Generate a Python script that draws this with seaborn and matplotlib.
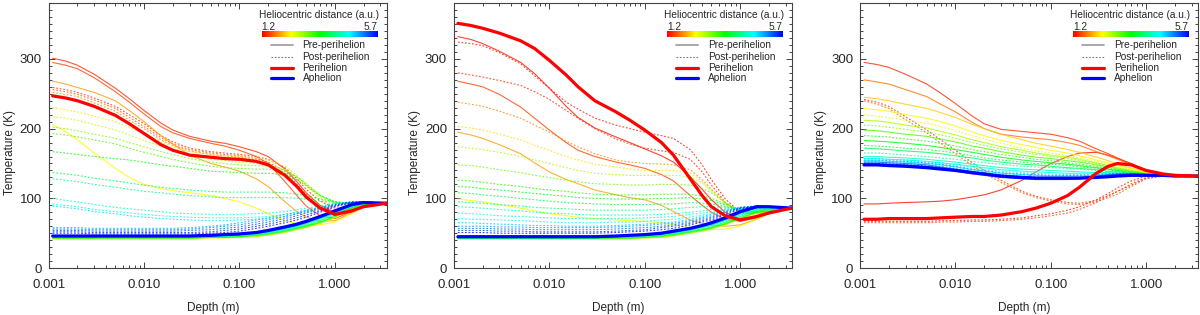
import numpy as np
import pandas as pd
import seaborn as sns
import matplotlib.pyplot as plt
from matplotlib.colors import LinearSegmentedColormap, Normalize
from matplotlib.lines import Line2D
from matplotlib.ticker import MultipleLocator, LogLocator, NullFormatter

# depth grid (m) shared by every profile
depth = [0.0011, 0.0015, 0.002, 0.003, 0.005, 0.007, 0.01, 0.015, 0.02, 0.03, 0.05, 0.07,
         0.1, 0.15, 0.2, 0.3, 0.4, 0.5, 0.7, 1.0, 1.5, 2.0, 3.5]

# ---------------- panel 1 ----------------
p1_r = [1.4, 1.5, 1.9, 2.3,
        1.4, 1.6, 1.8, 2.2, 2.6, 2.9, 3.1, 3.4, 3.8, 4.0, 4.3, 4.5, 4.7, 4.9, 5.1, 5.3, 5.5, 5.6,
        2.5, 3.0, 3.4, 3.8, 4.2, 4.6, 5.0, 5.4]
p1_phase = ['pre'] * 4 + ['post'] * 18 + ['pre'] * 8
p1_T = [
    [301, 297, 291, 278, 258, 243, 226, 208, 198, 189, 182, 179, 174, 167, 160, 142, 124, 108, 90, 80, 85, 90, 93],
    [295, 291, 286, 273, 253, 238, 221, 203, 194, 186, 179, 175, 169, 160, 150, 124, 104, 89, 75, 71, 81, 89, 93],
    [268, 264, 259, 252, 240, 226, 210, 190, 178, 162, 150, 145, 139, 128, 117, 95, 81, 73, 67, 68, 79, 88, 93],
    [206, 196, 184, 165, 143, 130, 120, 114, 111, 108, 104, 100, 95, 86, 78, 68, 64, 62, 62, 66, 78, 87, 93],
    [259, 256, 252, 244, 232, 220, 207, 190, 181, 172, 167, 165, 163, 160, 156, 144, 128, 113, 96, 86, 87, 91, 93],
    [256, 253, 249, 241, 229, 216, 203, 187, 178, 170, 165, 163, 161, 157, 152, 139, 121, 106, 90, 83, 86, 91, 93],
    [252, 249, 246, 237, 225, 212, 200, 184, 176, 168, 163, 161, 159, 155, 150, 136, 117, 101, 86, 81, 85, 90, 93],
    [230, 227, 224, 218, 210, 202, 193, 181, 174, 167, 163, 161, 160, 158, 155, 146, 133, 120, 99, 87, 87, 91, 93],
    [217, 215, 212, 206, 198, 191, 183, 175, 170, 162, 156, 154, 152, 150, 148, 141, 130, 118, 102, 93, 92, 93, 93],
    [202, 200, 197, 192, 186, 180, 174, 167, 163, 157, 152, 150, 148, 147, 146, 141, 131, 120, 104, 94, 92, 93, 93],
    [193, 191, 188, 184, 178, 172, 166, 160, 156, 151, 146, 144, 143, 142, 142, 139, 131, 121, 105, 95, 92, 93, 93],
    [167, 165, 163, 160, 157, 155, 152, 148, 146, 143, 139, 138, 137, 136, 136, 134, 127, 118, 104, 95, 92, 93, 93],
    [137, 135, 133, 129, 125, 122, 119, 116, 114, 112, 110, 109, 109, 109, 109, 108, 106, 104, 99, 95, 93, 93, 93],
    [128, 126, 124, 120, 116, 113, 110, 108, 106, 104, 102, 101, 101, 101, 101, 101, 100, 99, 96, 94, 93, 93, 93],
    [100, 97, 95, 91, 87, 85, 83, 81, 79, 78, 77, 77, 77, 78, 79, 81, 84, 86, 89, 93, 94, 94, 93],
    [92, 90, 88, 84, 81, 79, 77, 75, 74, 73, 72, 72, 72, 73, 74, 77, 80, 83, 87, 92, 94, 94, 93],
    [89, 87, 85, 81, 78, 75, 73, 71, 70, 69, 68, 68, 69, 70, 71, 74, 78, 81, 86, 91, 94, 94, 93],
    [58, 58, 58, 57, 57, 57, 57, 57, 57, 58, 60, 62, 65, 69, 72, 77, 80, 83, 87, 92, 95, 95, 93],
    [56, 56, 56, 55, 55, 55, 55, 55, 55, 56, 58, 60, 62, 66, 69, 74, 78, 81, 86, 91, 95, 95, 93],
    [54, 54, 54, 53, 53, 53, 53, 53, 53, 54, 55, 57, 59, 63, 66, 71, 75, 79, 84, 90, 95, 95, 93],
    [52, 52, 52, 51, 51, 51, 51, 51, 51, 51, 52, 54, 56, 60, 63, 68, 72, 76, 82, 89, 94, 95, 93],
    [50, 50, 50, 49, 49, 49, 49, 49, 49, 49, 50, 51, 53, 57, 60, 65, 69, 73, 80, 88, 94, 95, 93],
    [42, 42, 42, 42, 42, 42, 42, 42, 42, 42, 43, 43, 44, 45, 47, 51, 55, 58, 64, 72, 84, 90, 93],
    [43, 43, 43, 43, 43, 43, 43, 43, 43, 43, 44, 44, 45, 46, 48, 52, 56, 59, 65, 73, 85, 90, 93],
    [43, 43, 43, 43, 43, 43, 43, 43, 43, 43, 44, 44, 45, 47, 49, 53, 57, 60, 66, 74, 86, 91, 93],
    [44, 44, 44, 44, 44, 44, 44, 44, 44, 44, 45, 45, 46, 48, 50, 54, 58, 61, 68, 76, 87, 92, 93],
    [44, 44, 44, 44, 44, 44, 44, 44, 44, 44, 45, 46, 47, 49, 51, 55, 59, 63, 70, 78, 88, 93, 93],
    [45, 45, 45, 45, 45, 45, 45, 45, 45, 45, 46, 46, 47, 50, 52, 56, 60, 64, 71, 79, 89, 93, 93],
    [45, 45, 45, 45, 45, 45, 45, 45, 45, 45, 46, 47, 48, 50, 52, 57, 61, 65, 72, 80, 90, 94, 93],
    [46, 46, 46, 46, 46, 46, 46, 46, 46, 46, 47, 47, 48, 51, 53, 58, 62, 66, 73, 81, 90, 94, 93],
]
p1_peri = [247, 244, 240, 232, 219, 207, 193, 177, 169, 162, 159, 157, 156, 153, 148, 133, 117, 102, 86, 77, 82, 88, 93]
p1_aph = [46, 46, 46, 46, 46, 46, 46, 46, 46, 46, 47, 48, 49, 51, 54, 59, 63, 67, 74, 82, 91, 94, 93]

# ---------------- panel 2 ----------------
p2_r = [1.3, 1.5, 1.9, 2.4,
        1.3, 1.4, 1.8, 2.2, 2.7, 3.0, 3.3, 3.5, 3.7, 4.0, 4.2, 4.4, 4.6, 4.8, 5.0, 5.2, 5.4, 5.6,
        2.6, 3.1, 3.5, 3.9, 4.3, 4.7, 5.1, 5.5]
p2_phase = ['pre'] * 4 + ['post'] * 18 + ['pre'] * 8
p2_T = [
    [332, 328, 322, 311, 295, 279, 258, 232, 216, 201, 188, 180, 171, 161, 152, 131, 113, 98, 80, 70, 74, 79, 86],
    [268, 264, 260, 249, 231, 215, 198, 180, 169, 160, 152, 148, 143, 134, 125, 104, 90, 80, 70, 67, 72, 79, 86],
    [195, 191, 186, 177, 164, 151, 138, 127, 121, 112, 105, 101, 98, 90, 81, 69, 64, 62, 60, 62, 70, 78, 86],
    [99, 97, 95, 91, 86, 82, 78, 75, 73, 71, 69, 68, 67, 65, 62, 58, 56, 55, 56, 60, 70, 78, 86],
    [324, 322, 319, 309, 293, 276, 258, 238, 228, 215, 205, 200, 195, 190, 186, 170, 148, 127, 99, 80, 78, 81, 86],
    [280, 277, 274, 269, 262, 253, 242, 226, 215, 200, 185, 178, 172, 168, 166, 156, 138, 119, 94, 79, 78, 81, 86],
    [238, 235, 232, 225, 215, 205, 195, 182, 174, 164, 155, 152, 150, 149, 148, 141, 127, 113, 93, 80, 78, 81, 86],
    [203, 201, 198, 192, 184, 176, 169, 160, 155, 149, 145, 142, 140, 140, 140, 137, 124, 111, 92, 80, 78, 81, 86],
    [174, 172, 170, 166, 160, 155, 150, 144, 140, 136, 134, 133, 133, 133, 133, 131, 122, 112, 94, 81, 78, 81, 86],
    [148, 147, 145, 141, 137, 133, 130, 126, 124, 121, 120, 119, 119, 120, 120, 119, 114, 108, 94, 82, 79, 81, 86],
    [126, 125, 123, 120, 117, 114, 112, 110, 108, 106, 105, 105, 105, 106, 106, 106, 103, 100, 92, 83, 80, 82, 86],
    [117, 116, 114, 112, 109, 107, 105, 103, 101, 100, 99, 99, 99, 100, 100, 101, 99, 97, 90, 83, 80, 82, 86],
    [108, 107, 105, 103, 100, 98, 96, 94, 93, 92, 91, 91, 91, 92, 92, 94, 93, 92, 88, 84, 81, 82, 86],
    [95, 94, 93, 91, 89, 87, 86, 85, 84, 83, 83, 83, 83, 84, 85, 87, 88, 88, 87, 85, 83, 84, 86],
    [88, 87, 86, 84, 82, 80, 79, 78, 77, 76, 76, 76, 76, 77, 78, 80, 82, 84, 85, 85, 84, 84, 86],
    [79, 78, 77, 75, 74, 73, 72, 71, 71, 71, 71, 71, 72, 73, 74, 77, 79, 81, 84, 86, 85, 85, 86],
    [71, 70, 70, 69, 68, 67, 66, 65, 65, 65, 66, 66, 67, 69, 70, 73, 76, 79, 83, 86, 86, 86, 86],
    [65, 65, 64, 63, 62, 61, 61, 60, 60, 60, 61, 62, 63, 65, 66, 70, 74, 77, 82, 87, 88, 87, 86],
    [60, 60, 60, 59, 59, 58, 58, 58, 58, 58, 59, 60, 61, 63, 64, 68, 72, 75, 81, 87, 89, 88, 86],
    [57, 57, 57, 56, 56, 55, 55, 55, 55, 55, 56, 57, 58, 60, 62, 66, 70, 73, 80, 87, 89, 88, 86],
    [54, 54, 54, 53, 53, 52, 52, 52, 52, 52, 53, 54, 55, 58, 60, 64, 68, 71, 78, 86, 89, 88, 86],
    [51, 51, 51, 50, 50, 50, 50, 50, 50, 50, 51, 52, 53, 55, 57, 62, 66, 69, 76, 85, 89, 88, 86],
    [42, 42, 42, 42, 42, 42, 42, 42, 42, 42, 42, 42, 43, 44, 46, 50, 53, 56, 62, 70, 79, 84, 86],
    [42, 42, 42, 42, 42, 42, 42, 42, 42, 42, 43, 43, 44, 45, 47, 51, 54, 57, 63, 71, 80, 84, 86],
    [43, 43, 43, 43, 43, 43, 43, 43, 43, 43, 43, 43, 44, 46, 48, 52, 55, 58, 64, 72, 81, 85, 86],
    [43, 43, 43, 43, 43, 43, 43, 43, 43, 43, 44, 44, 45, 47, 49, 53, 56, 59, 66, 74, 83, 86, 86],
    [44, 44, 44, 44, 44, 44, 44, 44, 44, 44, 44, 45, 46, 48, 50, 54, 58, 61, 68, 76, 84, 87, 86],
    [44, 44, 44, 44, 44, 44, 44, 44, 44, 44, 45, 46, 47, 49, 51, 55, 59, 62, 69, 78, 86, 88, 86],
    [45, 45, 45, 45, 45, 45, 45, 45, 45, 45, 45, 46, 47, 49, 51, 56, 60, 63, 70, 79, 87, 88, 86],
    [45, 45, 45, 45, 45, 45, 45, 45, 45, 45, 46, 47, 48, 50, 52, 57, 61, 64, 71, 80, 87, 88, 86],
]
p2_peri = [351, 348, 344, 337, 326, 315, 298, 277, 260, 240, 224, 212, 198, 180, 162, 128, 104, 88, 75, 69, 74, 79, 86]
p2_aph = [45, 45, 45, 45, 45, 45, 45, 45, 45, 45, 46, 47, 48, 50, 53, 57, 61, 65, 72, 81, 88, 88, 86]

# ---------------- panel 3 ----------------
p3_r = [1.3, 1.4, 1.7, 2.1, 2.3, 2.7, 3.1, 3.5, 3.9, 4.3, 4.5, 4.7, 5.1, 5.2, 5.5,
        1.3, 1.5, 1.4, 1.6, 2.5, 2.9, 3.3, 3.7, 4.1, 4.5, 4.9, 5.0, 5.3, 5.5]
p3_phase = ['pre'] * 15 + ['post'] * 14
p3_T = [
    [92, 92, 93, 94, 95, 96, 98, 102, 105, 112, 126, 138, 150, 160, 165, 166, 162, 157, 150, 140, 135, 133, 132],
    [295, 292, 288, 278, 264, 251, 236, 218, 207, 199, 196, 194, 192, 187, 182, 171, 164, 158, 149, 140, 135, 133, 132],
    [270, 267, 264, 256, 246, 235, 224, 209, 200, 192, 188, 186, 184, 180, 176, 167, 161, 156, 148, 139, 135, 133, 132],
    [245, 243, 240, 235, 229, 223, 216, 206, 200, 192, 184, 179, 175, 170, 166, 159, 154, 149, 143, 138, 134, 133, 132],
    [229, 227, 225, 220, 215, 210, 204, 195, 190, 183, 177, 173, 169, 165, 161, 155, 151, 147, 142, 137, 134, 133, 132],
    [212, 211, 209, 205, 201, 196, 191, 184, 180, 174, 169, 165, 162, 159, 156, 151, 147, 144, 140, 136, 134, 133, 132],
    [198, 197, 195, 192, 189, 185, 181, 175, 172, 167, 162, 159, 157, 154, 152, 148, 145, 142, 139, 135, 133, 133, 132],
    [183, 182, 181, 179, 176, 173, 170, 166, 163, 159, 155, 153, 151, 149, 147, 144, 142, 140, 137, 135, 133, 133, 132],
    [172, 171, 170, 168, 166, 164, 161, 158, 155, 152, 149, 148, 146, 144, 143, 141, 139, 138, 136, 134, 133, 133, 132],
    [160, 160, 159, 158, 156, 154, 152, 149, 147, 144, 142, 141, 140, 139, 138, 137, 137, 136, 135, 134, 133, 132, 132],
    [157, 157, 156, 155, 153, 151, 149, 146, 144, 141, 139, 138, 137, 136, 136, 136, 136, 136, 135, 134, 133, 132, 132],
    [154, 154, 153, 152, 150, 148, 145, 141, 139, 136, 134, 133, 132, 132, 132, 133, 134, 135, 135, 134, 133, 132, 132],
    [150, 150, 149, 148, 146, 144, 141, 137, 135, 132, 130, 129, 129, 129, 129, 131, 133, 134, 135, 134, 133, 132, 132],
    [152, 152, 151, 150, 148, 145, 142, 138, 136, 133, 131, 130, 130, 130, 130, 132, 134, 135, 135, 134, 133, 132, 132],
    [148, 148, 147, 146, 144, 142, 139, 135, 133, 130, 128, 127, 127, 127, 128, 130, 132, 133, 134, 134, 133, 132, 132],
    [67, 67, 67, 67, 67, 68, 68, 69, 69, 70, 72, 75, 78, 83, 88, 98, 107, 115, 125, 132, 133, 132, 132],
    [65, 65, 65, 65, 65, 66, 66, 67, 67, 68, 70, 72, 75, 79, 84, 94, 103, 110, 121, 130, 133, 132, 132],
    [242, 238, 232, 217, 198, 184, 169, 151, 140, 126, 110, 103, 98, 94, 93, 97, 104, 110, 119, 129, 132, 132, 132],
    [240, 235, 229, 213, 194, 179, 164, 147, 136, 123, 108, 101, 96, 92, 91, 95, 101, 106, 117, 128, 132, 132, 132],
    [220, 218, 216, 212, 208, 203, 197, 190, 185, 179, 172, 168, 165, 161, 158, 153, 149, 145, 141, 136, 134, 133, 132],
    [205, 204, 202, 199, 195, 191, 186, 180, 176, 171, 166, 163, 160, 157, 154, 150, 146, 143, 139, 136, 133, 133, 132],
    [190, 189, 188, 185, 182, 179, 175, 170, 167, 163, 159, 156, 154, 151, 149, 146, 143, 141, 138, 135, 133, 133, 132],
    [176, 175, 174, 172, 170, 168, 165, 161, 158, 155, 152, 150, 149, 147, 145, 143, 141, 139, 136, 134, 133, 133, 132],
    [165, 165, 164, 162, 160, 158, 156, 153, 151, 149, 146, 145, 144, 143, 142, 140, 138, 137, 135, 134, 133, 133, 132],
    [157, 157, 156, 155, 153, 151, 148, 145, 142, 139, 137, 136, 135, 134, 134, 134, 135, 135, 135, 134, 133, 132, 132],
    [152, 152, 151, 150, 148, 146, 143, 139, 137, 134, 132, 131, 130, 130, 130, 132, 133, 134, 135, 134, 133, 132, 132],
    [155, 155, 154, 153, 151, 149, 146, 142, 140, 137, 135, 134, 133, 133, 133, 134, 135, 136, 136, 134, 133, 132, 132],
    [149, 149, 148, 147, 145, 143, 140, 136, 134, 131, 129, 128, 128, 128, 128, 130, 132, 133, 134, 134, 133, 132, 132],
    [150, 150, 149, 148, 146, 144, 141, 137, 135, 132, 130, 129, 129, 129, 129, 131, 133, 134, 135, 134, 133, 132, 132],
]
p3_peri = [70, 70, 71, 71, 71, 72, 73, 74, 74, 76, 81, 86, 93, 104, 116, 136, 146, 150, 148, 140, 135, 133, 132]
p3_aph = [148, 148, 147, 146, 144, 142, 140, 137, 135, 132, 130, 129, 129, 129, 129, 130, 131, 132, 133, 133, 133, 132, 132]

sns.set_style('ticks')
plt.rcParams['font.family'] = ['Liberation Sans', 'DejaVu Sans']

cmap = LinearSegmentedColormap.from_list(
    'helio', ['#ff0000', '#ffff00', '#00ff00', '#00ffff', '#0000ff'])
norm = Normalize(1.2, 5.7)

fig = plt.figure(figsize=(12, 3.15), dpi=100)
lefts = [0.0406, 0.3783, 0.7167]
axes = [fig.add_axes([l, 0.149, 0.2817, 0.841]) for l in lefts]

panels = [(p1_r, p1_phase, p1_T, p1_peri, p1_aph),
          (p2_r, p2_phase, p2_T, p2_peri, p2_aph),
          (p3_r, p3_phase, p3_T, p3_peri, p3_aph)]

for ax, (r, phase, temps, peri, aph) in zip(axes, panels):
    rows = []
    for i, (ri, ph, tt) in enumerate(zip(r, phase, temps)):
        for d, t in zip(depth, tt):
            rows.append({'curve': i, 'r': ri, 'phase': ph, 'depth': d, 'T': t})
    df = pd.DataFrame(rows)

    sns.lineplot(data=df, x='depth', y='T', hue='r', hue_norm=norm, palette=cmap,
                 style='phase', dashes={'pre': '', 'post': (1.6, 1.6)},
                 units='curve', estimator=None, sort=False, lw=0.8, alpha=0.8,
                 legend=False, ax=ax)
    sns.lineplot(x=depth, y=aph, color='#0000ff', lw=2.3, sort=False, ax=ax)
    sns.lineplot(x=depth, y=peri, color='#ff0000', lw=2.3, sort=False, ax=ax)

    ax.set_xscale('log')
    ax.set_xlim(0.001, 3.5)
    ax.set_ylim(0, 380)
    ax.set_xticks([0.001, 0.01, 0.1, 1.0])
    ax.set_xticklabels(['0.001', '0.010', '0.100', '1.000'])
    ax.xaxis.set_minor_locator(LogLocator(base=10, subs=range(2, 10)))
    ax.xaxis.set_minor_formatter(NullFormatter())
    ax.set_yticks([0, 100, 200, 300])
    ax.yaxis.set_minor_locator(MultipleLocator(10))
    ax.tick_params(which='both', direction='in', top=True, right=True,
                   color='#444444', width=0.7)
    ax.tick_params(which='major', length=4.5)
    ax.tick_params(which='minor', length=2.2)
    ax.tick_params(axis='x', labelsize=9.5, pad=8)
    ax.tick_params(axis='y', labelsize=9.5, pad=5)
    for s in ax.spines.values():
        s.set_color('#444444')
        s.set_linewidth(0.8)

    ax.set_xlabel('Depth (m)', fontsize=8.5)
    ax.set_ylabel('Temperature (K)', fontsize=8.5)
    ax.xaxis.set_label_coords(0.486, -0.128)
    ax.yaxis.set_label_coords(-0.097, 0.438)

    # colour key
    ax.text(0.80, 0.955, 'Heliocentric distance (a.u.)', transform=ax.transAxes,
            ha='center', va='center', fontsize=7.3)
    ax.text(0.630, 0.911, '1.2', transform=ax.transAxes, ha='left', va='center', fontsize=7.3)
    ax.text(0.972, 0.911, '5.7', transform=ax.transAxes, ha='right', va='center', fontsize=7.3)
    cax = ax.inset_axes([0.630, 0.874, 0.342, 0.019])
    cax.imshow(np.linspace(0, 1, 256)[None, :], aspect='auto', cmap=cmap)
    cax.set_axis_off()

    # line key
    keys = [('Pre-perihelion', '#999999', '-', 1.2, 0.842),
            ('Post-perihelion', '#777777', (0, (1.5, 1.5)), 0.8, 0.797),
            ('Perihelion', '#ff0000', '-', 2.3, 0.756),
            ('Aphelion', '#0000ff', '-', 2.3, 0.716)]
    for label, c, ls, lw, yk in keys:
        ax.add_line(Line2D([0.658, 0.722], [yk, yk], transform=ax.transAxes,
                           color=c, ls=ls, lw=lw))
        ax.text(0.751, yk, label, transform=ax.transAxes, ha='left', va='center',
                fontsize=7.3)

fig.savefig('out.png', dpi=100)
